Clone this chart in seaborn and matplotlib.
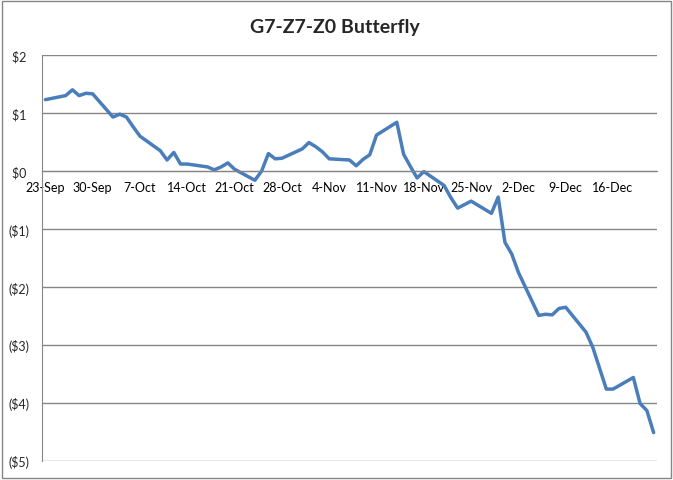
import pandas as pd
import seaborn as sns
import matplotlib.pyplot as plt
from matplotlib.patches import Rectangle

dates = [
    "2016-09-23", "2016-09-26", "2016-09-27", "2016-09-28", "2016-09-29", "2016-09-30",
    "2016-10-03", "2016-10-04", "2016-10-05", "2016-10-06", "2016-10-07",
    "2016-10-10", "2016-10-11", "2016-10-12", "2016-10-13", "2016-10-14",
    "2016-10-17", "2016-10-18", "2016-10-19", "2016-10-20", "2016-10-21",
    "2016-10-24", "2016-10-25", "2016-10-26", "2016-10-27", "2016-10-28",
    "2016-10-31", "2016-11-01", "2016-11-02", "2016-11-03", "2016-11-04",
    "2016-11-07", "2016-11-08", "2016-11-09", "2016-11-10", "2016-11-11",
    "2016-11-14", "2016-11-15", "2016-11-16", "2016-11-17", "2016-11-18",
    "2016-11-21", "2016-11-22", "2016-11-23", "2016-11-25",
    "2016-11-28", "2016-11-29", "2016-11-30", "2016-12-01", "2016-12-02",
    "2016-12-05", "2016-12-06", "2016-12-07", "2016-12-08", "2016-12-09",
    "2016-12-12", "2016-12-13", "2016-12-14", "2016-12-15", "2016-12-16",
    "2016-12-19", "2016-12-20", "2016-12-21", "2016-12-22",
]
spread = [
    1.23, 1.30, 1.40, 1.30, 1.34, 1.33,
    0.93, 0.98, 0.93, 0.76, 0.60,
    0.35, 0.19, 0.32, 0.12, 0.12,
    0.07, 0.02, 0.07, 0.14, 0.03,
    -0.16, 0.00, 0.30, 0.21, 0.22,
    0.38, 0.49, 0.42, 0.33, 0.21,
    0.19, 0.09, 0.20, 0.28, 0.62,
    0.84, 0.29, 0.08, -0.12, -0.01,
    -0.25, -0.46, -0.64, -0.52,
    -0.73, -0.45, -1.23, -1.43, -1.75,
    -2.49, -2.47, -2.48, -2.37, -2.35,
    -2.78, -3.04, -3.40, -3.76, -3.76,
    -3.56, -4.01, -4.13, -4.51,
]

xtick_labels = ["23-Sep", "30-Sep", "7-Oct", "14-Oct", "21-Oct", "28-Oct", "4-Nov",
                "11-Nov", "18-Nov", "25-Nov", "2-Dec", "9-Dec", "16-Dec"]
ytick_values = [2, 1, 0, -1, -2, -3, -4, -5]
ytick_labels = ["$2 ", "$1 ", "$0 ", "($1)", "($2)", "($3)", "($4)", "($5)"]

df = pd.DataFrame({"date": pd.to_datetime(dates), "spread": spread})

sns.set_style("white")
plt.rcParams["font.family"] = ["Lato", "DejaVu Sans"]

fig = plt.figure(figsize=(6.73, 4.81), dpi=100)
ax = fig.add_axes([42 / 673, 19 / 481, 615 / 673, 406 / 481])

sns.lineplot(data=df, x="date", y="spread", ax=ax, color="#4A7EBB", linewidth=2.5)

grid = "#868686"
start = df["date"].iloc[0]
half = pd.Timedelta(hours=12)
ax.set_xlim(start - half, start + pd.Timedelta(days=90) + half)
ax.set_ylim(-5, 2)

# labels sit on day centres, tick marks on week boundaries
label_pos = [start + pd.Timedelta(days=7 * i) for i in range(len(xtick_labels))]
mark_pos = [start - half + pd.Timedelta(days=7 * i) for i in range(len(xtick_labels) + 1)]
ax.set_xticks(label_pos)
ax.set_xticklabels(xtick_labels)
ax.set_xticks(mark_pos, minor=True)
ax.tick_params(axis="x", which="major", length=0, pad=7, labelsize=9, colors="black")
ax.tick_params(axis="x", which="minor", length=5, width=1, color=grid, direction="out")

ax.set_yticks(ytick_values)
ax.set_yticklabels(ytick_labels)
ax.tick_params(axis="y", length=4, width=1, color=grid, pad=5, labelsize=9, direction="out")

ax.yaxis.grid(True, color=grid, linewidth=1)
ax.set_axisbelow(True)
for side in ["top", "right"]:
    ax.spines[side].set_visible(False)
ax.spines["left"].set_color(grid)
ax.spines["bottom"].set_color(grid)
ax.spines["bottom"].set_position(("data", 0))
ax.set_xlabel("")
ax.set_ylabel("")

fig.text(335 / 673, 1 - 27 / 481, "G7-Z7-Z0 Butterfly", ha="center", va="center",
         fontsize=14, fontweight="bold")
fig.patches.append(Rectangle((0.003, 0.004), 0.994, 0.992, transform=fig.transFigure,
                             fill=False, edgecolor=grid, linewidth=1))

fig.savefig("out.png", dpi=100)
